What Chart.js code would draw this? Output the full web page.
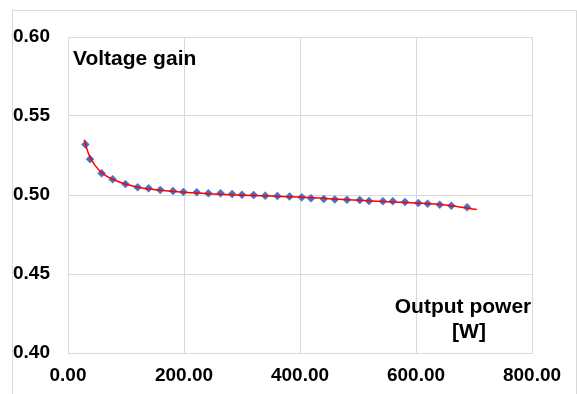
<!DOCTYPE html>
<html>
<head>
<meta charset="utf-8">
<script src="https://cdn.jsdelivr.net/npm/chart.js@4.4.1/dist/chart.umd.min.js"></script>
<style>
  html, body { margin: 0; padding: 0; background: #fff; }
  #wrap { width: 577px; height: 394px; }
</style>
</head>
<body>
<div id="wrap"><canvas id="myChart" width="577" height="394"></canvas></div>
<script>
// measured points (output power W, voltage gain)
const powerW = [30, 38, 58, 77, 99, 120, 139, 159, 181, 199, 222, 242, 263, 283, 300, 320, 340, 361, 382, 403,
    419, 441, 460, 481, 503, 519, 543, 560, 581, 604, 620, 641, 661, 688]
const gain = [0.5320, 0.5227, 0.5137, 0.5099, 0.5069, 0.5049, 0.5042, 0.5032, 0.5025, 0.5019, 0.5017, 0.5011, 0.5011, 0.5006, 0.5002, 0.5000, 0.4996, 0.4994, 0.4990, 0.4985,
    0.4979, 0.4975, 0.4972, 0.4970, 0.4968, 0.4962, 0.4960, 0.4960, 0.4956, 0.4949, 0.4945, 0.4939, 0.4932, 0.4922]

// red trend line
const trendW = [28, 35, 45, 60, 80, 100, 130, 160, 200, 250, 300, 350, 400, 450, 500, 550, 600, 650, 705]
const trendGain = [0.5350, 0.5265, 0.5195, 0.5135, 0.5095, 0.5068, 0.5043, 0.5030, 0.5018, 0.5007, 0.4999, 0.4993, 0.4987, 0.4977, 0.4967, 0.4957, 0.4949, 0.4937, 0.4908]

const xTicks = [0, 200, 400, 600, 800]
const yTicks = [0.40, 0.45, 0.50, 0.55, 0.60]

const gridColor = '#d9d9d9'
const labelFont = { family: 'Liberation Sans', size: 19, weight: 'bold' }

const pointsData = powerW.map((w, i) => ({ x: w, y: gain[i] }))
const trendData = trendW.map((w, i) => ({ x: w, y: trendGain[i] }))

// outer frame and the two in-plot captions
const decorations = {
    id: 'decorations',
    beforeDraw(chart) {
        const ctx = chart.ctx
        ctx.save()
        ctx.fillStyle = '#fff'
        ctx.fillRect(0, 0, chart.width, chart.height)
        ctx.strokeStyle = gridColor
        ctx.lineWidth = 1
        ctx.beginPath()
        ctx.moveTo(12.5, 394)
        ctx.lineTo(12.5, 10.5)
        ctx.lineTo(576.5, 10.5)
        ctx.lineTo(576.5, 394)
        ctx.stroke()
        ctx.restore()
    },
    afterDraw(chart) {
        const ctx = chart.ctx
        ctx.save()
        ctx.fillStyle = '#000'
        ctx.font = 'bold 21px "Liberation Sans"'
        ctx.textBaseline = 'middle'
        ctx.textAlign = 'left'
        ctx.fillText('Voltage gain', 73, 59)
        ctx.textAlign = 'center'
        ctx.fillText('Output power', 463, 307)
        ctx.fillText('[W]', 469, 332)
        ctx.restore()
    }
}

new Chart('myChart', {
    type: 'scatter',
    data: {
        datasets: [{
            label: 'trend',
            data: trendData,
            showLine: true,
            borderColor: '#ff0000',
            borderWidth: 1.5,
            pointRadius: 0,
            cubicInterpolationMode: 'monotone',
            order: 0
        }, {
            label: 'Voltage gain',
            data: pointsData,
            pointStyle: 'rectRot',
            pointRadius: 4,
            backgroundColor: '#4472c4',
            borderColor: '#4472c4',
            borderWidth: 0.5,
            order: 1
        }]
    },
    options: {
        responsive: false,
        animation: false,
        layout: { padding: { left: 13, top: 37, right: 45, bottom: 0 } },
        plugins: { legend: { display: false }, tooltip: { enabled: false } },
        scales: {
            x: {
                type: 'linear',
                min: 0,
                max: 800,
                afterBuildTicks: axis => { axis.ticks = xTicks.map(v => ({ value: v })) },
                afterFit: axis => { axis.height = 41 },
                grid: { color: gridColor, drawTicks: false },
                border: { display: true, color: gridColor },
                ticks: {
                    color: '#000',
                    font: labelFont,
                    padding: 11,
                    maxRotation: 0,
                    callback: v => v.toFixed(2)
                }
            },
            y: {
                type: 'linear',
                min: 0.40,
                max: 0.60,
                afterBuildTicks: axis => { axis.ticks = yTicks.map(v => ({ value: v })) },
                afterFit: axis => { axis.width = 55 },
                grid: { color: gridColor, drawTicks: false },
                border: { display: true, color: gridColor },
                ticks: {
                    color: '#000',
                    font: labelFont,
                    crossAlign: 'far',
                    padding: 6,
                    callback: v => v.toFixed(2)
                }
            }
        }
    },
    plugins: [decorations]
})
</script>
</body>
</html>
